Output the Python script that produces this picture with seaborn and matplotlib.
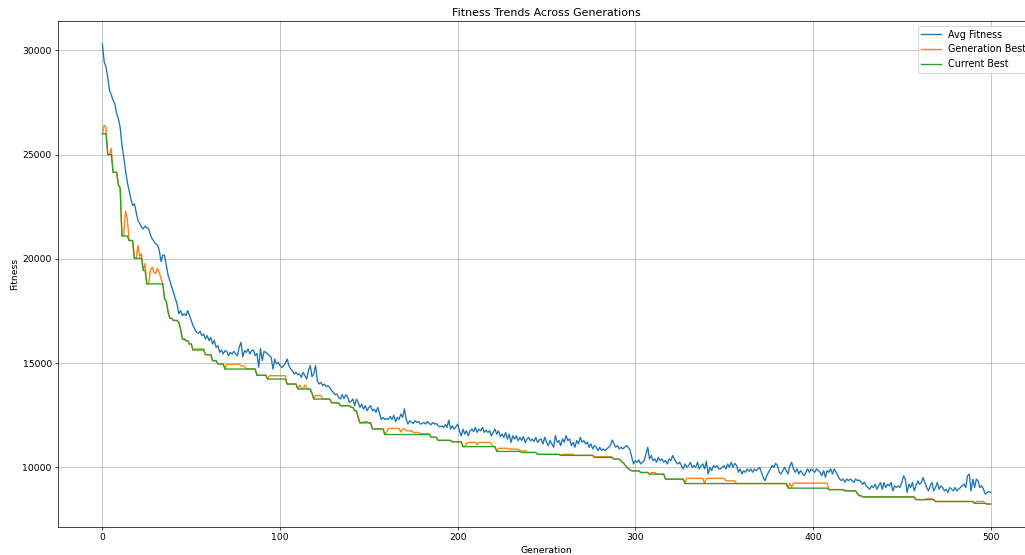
import numpy as np
import pandas as pd
import matplotlib
matplotlib.use("Agg")
import matplotlib.pyplot as plt
import seaborn as sns

# Average population fitness per generation (0..500)
avg_fitness = [
    30300, 29450, 29200, 28700, 28080, 27870, 27600, 27440, 26960, 26720,
    26300, 25440, 24880, 24240, 23680, 23280, 22880, 22560, 22640, 22240,
    21840, 21700, 21520, 21440, 21570, 21500, 21440, 21150, 20960, 20850,
    20720, 20670, 20400, 19870, 20190, 20160, 19680, 19200, 18950, 18650,
    18400, 18100, 17850, 17370, 17520, 17280, 17370, 17280, 17520, 17300,
    17050, 16800, 16640, 16480, 16430, 16530, 16320, 16400, 16160, 16320,
    16080, 16240, 15920, 16080, 15760, 15840, 15520, 15630, 15440, 15600,
    15570, 15360, 15520, 15440, 15570, 15440, 15360, 15760, 16000, 15300,
    15600, 15520, 15680, 15440, 15600, 15630, 15360, 15470, 14800, 15700,
    15120, 15570, 15520, 15440, 15360, 15280, 14720, 15200, 14960, 15040,
    14880, 14800, 14880, 14990, 15200, 14880, 14720, 14640, 14480, 14560,
    14450, 14480, 14320, 14560, 14400, 14240, 14640, 14890, 14350, 14500,
    14890, 14160, 14000, 14080, 13920, 14000, 13870, 13920, 13840, 13680,
    13600, 13490, 13520, 13360, 13280, 13490, 13300, 13490, 13390, 13120,
    13170, 13280, 12960, 13280, 13120, 12880, 13040, 12800, 12960, 12720,
    12880, 12960, 12720, 12800, 12640, 12880, 12600, 12300, 12400, 12300,
    12350, 12300, 12450, 12300, 12500, 12200, 12400, 12300, 12560, 12400,
    12810, 12320, 12080, 12240, 12160, 12110, 12240, 12160, 12210, 12080,
    12110, 12160, 12080, 12210, 12110, 12050, 12160, 12080, 12110, 12000,
    11950, 12000, 11920, 12050, 11920, 12270, 11840, 12000, 11840, 11950,
    12080, 11760, 11520, 11840, 11600, 11760, 11520, 11760, 11840, 11720,
    11920, 11680, 11840, 11760, 11920, 11680, 11790, 11680, 11760, 11520,
    11680, 11840, 11600, 11760, 11480, 11600, 11440, 11680, 11360, 11600,
    11200, 11520, 11360, 11520, 11280, 11440, 11300, 11480, 11200, 11360,
    11440, 11280, 11360, 11250, 11440, 11200, 11330, 11370, 11130, 11450,
    11210, 11050, 11290, 11130, 10970, 11530, 11210, 11290, 11050, 11370,
    11210, 11530, 11290, 11370, 11050, 11210, 10970, 11290, 11130, 11450,
    11210, 11290, 11130, 11210, 10970, 11130, 10890, 11050, 10970, 10810,
    10970, 10810, 10890, 10810, 10890, 10970, 11050, 11320, 11130, 10970,
    11050, 10890, 10970, 10890, 10970, 11050, 10970, 10840, 10490, 10170,
    10330, 10250, 10360, 10170, 10250, 10330, 10650, 10970, 10400, 10570,
    10330, 10410, 10250, 10490, 10330, 10410, 10250, 10330, 10170, 10410,
    10330, 10570, 10410, 10250, 10170, 10250, 10090, 9930, 10170, 10010,
    10090, 10250, 10010, 10090, 10010, 10250, 9930, 10090, 10170, 9930,
    10300, 9690, 10010, 9850, 10090, 10010, 10090, 9930, 9930, 10010,
    10090, 9930, 10170, 10010, 10250, 10010, 10200, 10090, 9770, 9930,
    9690, 9850, 9770, 9930, 9820, 9930, 9770, 9930, 9850, 9930,
    10010, 9770, 9530, 9370, 9610, 9770, 9930, 10090, 10010, 10200,
    10090, 9770, 9690, 9850, 10010, 9850, 9690, 10090, 10250, 9930,
    9770, 9930, 9690, 9850, 9720, 9610, 9770, 9930, 9770, 9930,
    9850, 9770, 9930, 9850, 9770, 9610, 9850, 9530, 9850, 9770,
    9930, 9690, 9930, 9770, 9610, 9450, 9370, 9450, 9290, 9450,
    9370, 9450, 9370, 9290, 9450, 9370, 9400, 9300, 9200, 9300,
    9120, 9040, 8960, 9120, 9040, 9200, 8960, 9120, 9280, 8960,
    9280, 9040, 9200, 9120, 9280, 8880, 9120, 9040, 9120, 9040,
    9280, 9600, 9440, 8800, 9200, 9040, 9280, 8880, 9120, 9360,
    9200, 9280, 9520, 9280, 9040, 8880, 9120, 9280, 8880, 9040,
    9280, 8960, 9120, 9040, 8880, 8960, 8800, 9040, 8960, 8880,
    9040, 8880, 8960, 9040, 9120, 9200, 9040, 9600, 9680, 8880,
    9440, 9040, 9440, 9360, 9040, 9120, 8960, 8720, 8800, 8850,
    8800,
]

# Best individual of each generation: first generation of each run and its value
gen_best_start = [
    0, 1, 2, 3, 5, 6, 9, 10, 11, 13, 14, 15, 18, 20, 21, 22, 23, 24, 25, 27,
    28, 29, 30, 31, 32, 33, 34, 35, 36, 37, 38, 40, 43, 44, 45, 47, 49, 51, 52, 58,
    62, 65, 69, 70, 78, 81, 87, 93, 94, 104, 110, 111, 112, 113, 114, 115, 116, 118, 119, 120,
    124, 129, 134, 140, 142, 144, 145, 147, 150, 152, 159, 160, 161, 168, 169, 171, 175, 179, 185, 189,
    197, 203, 205, 206, 211, 212, 219, 220, 222, 223, 229, 235, 239, 245, 258, 259, 266, 277, 278, 287,
    288, 292, 293, 294, 295, 296, 297, 298, 303, 308, 309, 312, 317, 328, 329, 339, 340, 351, 357, 386,
    387, 388, 389, 409, 418, 425, 426, 428, 458, 464, 468, 469, 491, 492, 497, 498,
]
gen_best_value = [
    26000, 26400, 26300, 25000, 25300, 24150, 23550, 23400, 21100, 22300, 21950, 20880, 20030, 20650, 20100, 20250, 19440, 19780, 18800, 19450,
    19600, 19350, 19300, 19550, 19350, 19050, 18800, 18100, 17950, 17450, 17150, 17050, 16960, 16640, 16160, 16080, 15920, 15630, 15680, 15410,
    15120, 14960, 14720, 14950, 14870, 14720, 14420, 14240, 14400, 14000, 13760, 13950, 13800, 13760, 13950, 13800, 13760, 13550, 13280, 13450,
    13280, 13100, 12960, 12880, 12720, 12400, 12140, 12200, 12140, 11850, 11580, 11700, 11870, 11700, 11850, 11760, 11680, 11620, 11450, 11300,
    11230, 11000, 11150, 11200, 11100, 11200, 11150, 11000, 10770, 10920, 10880, 10800, 10720, 10630, 10580, 10630, 10580, 10480, 10520, 10480,
    10400, 10300, 10240, 10150, 10030, 9950, 9880, 9840, 9760, 9680, 9760, 9680, 9440, 9230, 9480, 9230, 9480, 9360, 9230, 9010,
    9250, 9050, 9250, 8940, 8880, 8750, 8650, 8590, 8460, 8500, 8460, 8370, 8280, 8370, 8280, 8250,
]

# Best individual found so far: first generation of each plateau and its value
best_start = [
    0, 3, 6, 9, 10, 11, 15, 18, 23, 25, 35, 36, 37, 38, 40, 43, 44, 45, 47, 49,
    51, 58, 62, 65, 69, 87, 93, 104, 110, 118, 119, 129, 134, 140, 142, 144, 145, 152, 159, 185,
    189, 197, 203, 222, 236, 245, 258, 277, 288, 292, 293, 294, 295, 296, 297, 298, 303, 308, 317, 328,
    386, 409, 418, 425, 426, 428, 458, 469, 491, 498,
]
best_value = [
    26000, 25000, 24150, 23550, 23400, 21100, 20880, 20030, 19440, 18800, 18100, 17950, 17450, 17150, 17050, 16960, 16640, 16160, 16080, 15920,
    15630, 15410, 15120, 14960, 14720, 14420, 14240, 14000, 13760, 13550, 13280, 13100, 12960, 12880, 12720, 12400, 12140, 11850, 11580, 11450,
    11300, 11230, 11000, 10770, 10720, 10630, 10580, 10480, 10400, 10300, 10240, 10150, 10030, 9950, 9880, 9840, 9760, 9680, 9440, 9230,
    9010, 8940, 8880, 8750, 8650, 8590, 8460, 8370, 8280, 8250,
]


def expand_runs(starts, values, n):
    """Expand (start generation, value) runs into one value per generation."""
    lengths = np.diff(list(starts) + [n])
    return np.repeat(values, lengths)


n_gen = len(avg_fitness)
generations = np.arange(n_gen)
df = pd.DataFrame({
    "Generation": generations,
    "Avg Fitness": avg_fitness,
    "Generation Best": expand_runs(gen_best_start, gen_best_value, n_gen),
    "Current Best": expand_runs(best_start, best_value, n_gen),
})

DPI = 64
plt.rcParams["font.size"] = 10.4
fig = plt.figure(figsize=(1025 / DPI, 555 / DPI), dpi=DPI)
ax = fig.add_axes([58 / 1025, 28 / 555, 977 / 1025, 506 / 555])

colors = {"Avg Fitness": "#1f77b4", "Generation Best": "#ff7f0e", "Current Best": "#2ca02c"}
for name in ["Avg Fitness", "Generation Best", "Current Best"]:
    sns.lineplot(data=df, x="Generation", y=name, ax=ax, color=colors[name],
                 label=name, linewidth=1.5)

ax.set_title("Fitness Trends Across Generations", fontsize=12.4)
ax.set_xlabel("Generation")
ax.set_ylabel("Fitness")
ax.grid(True)
ax.legend(loc="upper right", fontsize=10.8)

fig.savefig("out.png", dpi=DPI)
